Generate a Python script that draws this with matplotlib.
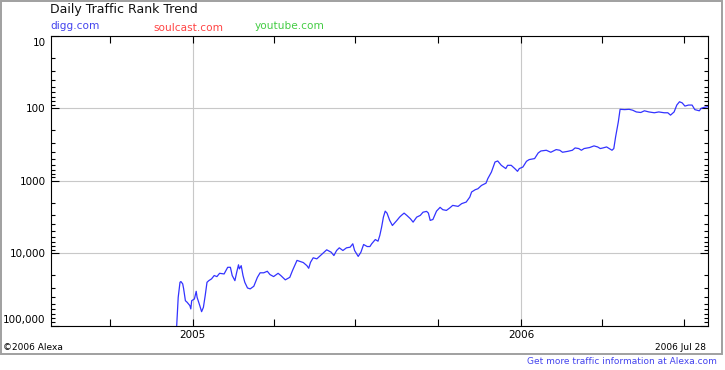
import numpy as np
import matplotlib
matplotlib.use("Agg")
import matplotlib.pyplot as plt
from matplotlib.ticker import LogLocator, NullFormatter, FixedLocator, FixedFormatter
from matplotlib.patches import Rectangle

plt.rcParams['font.family'] = ['DejaVu Sans']

# ---- data: digg.com daily traffic rank (days since 2005-01-01, rank) ----
base_date = np.datetime64('2005-01-01')
digg_days = [-18, -16, -14, -13, -11, -10, -8, -6, -3, -2,
             -1, 2, 4, 5, 8, 10, 12, 14, 16, 18,
             21, 24, 27, 30, 35, 39, 42, 44, 47, 49,
             51, 52, 54, 56, 58, 61, 64, 68, 72, 75,
             79, 83, 86, 90, 95, 98, 103, 108, 111, 116,
             120, 123, 127, 129, 131, 134, 138, 142, 146, 149,
             154, 157, 160, 163, 167, 171, 175, 178, 180, 184,
             187, 190, 194, 197, 199, 203, 206, 208, 210, 212,
             214, 216, 219, 222, 227, 230, 232, 235, 238, 242,
             245, 249, 253, 256, 260, 262, 264, 267, 271, 275,
             278, 282, 286, 289, 295, 299, 304, 308, 310, 314,
             317, 321, 326, 328, 332, 336, 339, 343, 348, 350,
             354, 358, 361, 363, 367, 371, 374, 380, 384, 387,
             393, 398, 404, 408, 411, 417, 422, 425, 429, 432,
             435, 441, 446, 450, 453, 456, 460, 463, 466, 468,
             470, 473, 475, 480, 485, 489, 493, 498, 502, 507,
             513, 518, 524, 528, 531, 535, 538, 541, 544, 547,
             551, 555, 558, 563, 565, 568, 572]
digg_rank = [120000, 40800, 25300, 24700, 26600, 30900, 45400, 47900, 53200, 59000,
             45400, 43000, 33700, 40800, 53200, 64400, 56100, 38600, 25300, 24000,
             22700, 20400, 21100, 19000, 19400, 15700, 15700, 20400, 24000, 18400,
             14500, 16500, 14900, 20400, 25300, 30300, 31200, 28700, 21600, 18700,
             18700, 17800, 19800, 21100, 19000, 20400, 23400, 21600, 17400, 12600,
             13100, 13500, 14900, 16200, 13400, 11600, 12000, 10800, 9720, 9000,
             9720, 10800, 9200, 8450, 9200, 8450, 8280, 7430, 9200, 11100,
             9720, 7600, 8110, 8110, 7430, 6490, 6840, 5700, 4380, 3180,
             2630, 2800, 3530, 4150, 3530, 3180, 3010, 2800, 3010, 3350,
             3730, 3180, 3010, 2720, 2650, 2800, 3530, 3430, 2630, 2330,
             2510, 2570, 2360, 2190, 2260, 2070, 1970, 1680, 1430, 1330,
             1290, 1160, 1080, 935, 759, 551, 533, 612, 679, 612,
             612, 679, 741, 679, 646, 538, 510, 494, 413, 388,
             379, 404, 371, 379, 404, 392, 379, 352, 359, 379,
             359, 348, 330, 341, 359, 352, 341, 359, 379, 359,
             248, 154, 103, 104, 103, 106, 112, 114, 108, 112,
             115, 112, 115, 115, 124, 112, 90, 81, 84, 93,
             90, 90, 104, 108, 100, 97, 95]

x_start = '2004-07-28'
x_end = '2006-07-28'
year_ticks = ['2005-01-01', '2006-01-01']
year_labels = ['2005', '2006']
quarter_ticks = ['2004-10-01', '2005-04-01', '2005-07-01', '2005-10-01',
                 '2006-04-01', '2006-07-01']
rank_ticks = [10, 100, 1000, 10000, 100000]
rank_labels = ['10', '100', '1000', '10,000', '100,000']
legend_sites = ['digg.com', 'soulcast.com', 'youtube.com']
legend_colors = ['#4444ee', '#ff4444', '#44cc44']

W, H = 725, 370
fig = plt.figure(figsize=(W / 100, H / 100), dpi=100)
fig.patch.set_facecolor('white')

def fx(px):
    return px / W

def fy(py):
    return 1 - py / H

# outer border
fig.patches.append(Rectangle((fx(1), fy(354)), fx(722) - fx(1), fy(1) - fy(354),
                             transform=fig.transFigure, fill=False,
                             edgecolor='#a0a0a0', linewidth=1.4))

ax = fig.add_axes([fx(51.3), fy(325.5), fx(708.3) - fx(51.3), fy(36) - fy(325.5)])

dates = base_date + np.array(digg_days).astype('timedelta64[D]')
ax.plot(dates, digg_rank, color='#3333ff', linewidth=0.9, zorder=3)

ax.set_yscale('log')
ax.set_ylim(100000, 10)
ax.set_xlim(np.datetime64(x_start), np.datetime64(x_end))

ax.yaxis.set_major_locator(FixedLocator(rank_ticks))
ax.yaxis.set_major_formatter(FixedFormatter(['', rank_labels[1], rank_labels[2], rank_labels[3], '']))
ax.yaxis.set_minor_locator(LogLocator(base=10, subs=range(2, 10), numticks=20))
ax.yaxis.set_minor_formatter(NullFormatter())

yt = [np.datetime64(t) for t in year_ticks]
qt = [np.datetime64(t) for t in quarter_ticks]
ax.set_xticks(yt)
ax.set_xticklabels(year_labels)
ax.set_xticks(qt, minor=True)

ax.tick_params(axis='x', which='both', direction='in', top=True, bottom=True,
               length=5, width=0.8, pad=3, labelsize=7.5, colors='black')
ax.tick_params(axis='y', which='major', direction='in', left=True, right=True,
               length=6, width=0.8, pad=4, labelsize=7.5)
ax.tick_params(axis='y', which='minor', direction='in', left=True, right=True,
               length=3, width=0.8)

# edge labels kept inside the axis range
ax.annotate(rank_labels[0], xy=(0, rank_ticks[0]), xycoords=('axes fraction', 'data'),
            xytext=(-5.5, -7), textcoords='offset pixels', ha='right', va='center',
            fontsize=7.5)
ax.annotate(rank_labels[-1], xy=(0, rank_ticks[-1]), xycoords=('axes fraction', 'data'),
            xytext=(-5.5, 6), textcoords='offset pixels', ha='right', va='center',
            fontsize=7.5)

ax.grid(True, which='major', color='#c8c8c8', linewidth=0.8)
ax.set_axisbelow(True)
for s in ax.spines.values():
    s.set_color('black')
    s.set_linewidth(0.8)

# texts
fig.text(fx(50), fy(10), 'Daily Traffic Rank Trend', fontsize=9, ha='left', va='center',
         color='#111111')
fig.text(fx(50), fy(26), legend_sites[0], fontsize=7.6, color=legend_colors[0],
         ha='left', va='center')
fig.text(fx(153), fy(28), legend_sites[1], fontsize=7.6, color=legend_colors[1],
         ha='left', va='center')
fig.text(fx(255), fy(26), legend_sites[2], fontsize=7.6, color=legend_colors[2],
         ha='left', va='center')
fig.text(fx(3), fy(347), '©2006 Alexa', fontsize=6.5, ha='left', va='center')
fig.text(fx(706), fy(347), '2006 Jul 28', fontsize=6.5, ha='right', va='center')
fig.text(fx(717), fy(362), 'Get more traffic information at Alexa.com', fontsize=6.5,
         ha='right', va='center', color='#4444ee')

fig.savefig('out.png', dpi=100)
